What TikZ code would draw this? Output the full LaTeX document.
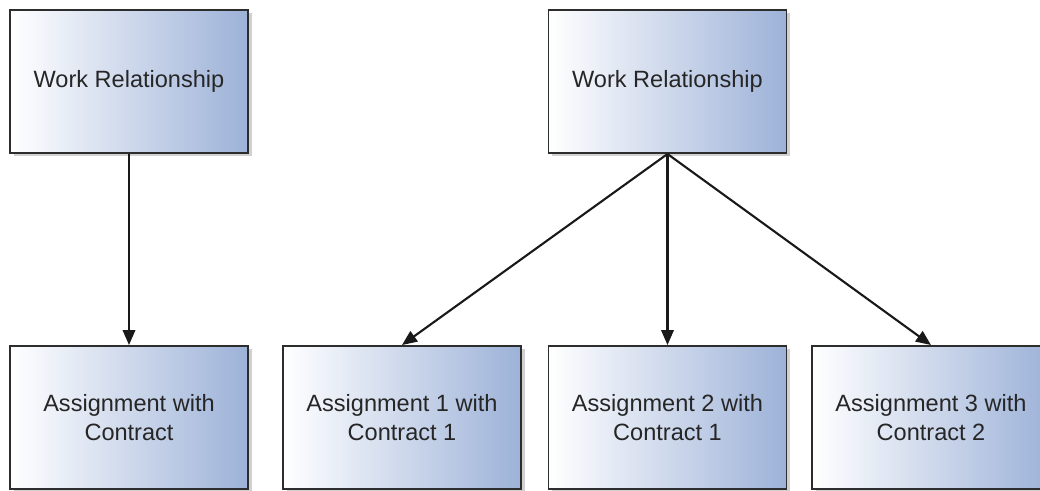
\documentclass[tikz,border=0pt]{standalone}
\usepackage{fontspec}
\setmainfont{Liberation Sans}
\usetikzlibrary{arrows.meta,shadows}
\definecolor{boxblue}{RGB}{157,178,216}
\definecolor{boxline}{RGB}{45,45,45}
\begin{document}
\begin{tikzpicture}[
  font=\fontsize{13.4}{16.4}\selectfont,
  box/.style={draw=boxline, line width=1.1pt, align=center, left color=white, right color=boxblue,
    minimum width=4.76cm, minimum height=2.86cm, text=black!85,
    drop shadow={shadow xshift=0.07cm, shadow yshift=-0.07cm, fill=black, opacity=0.18}},
  arrow/.style={-{Triangle[length=0.3cm, width=0.25cm]}, line width=1.2pt, black!90}
]
\useasboundingbox (0,0) rectangle (20.8,-9.82);
\node[box] (wr1) at (2.58,-1.63) {Work Relationship};
\node[box] (wr2) at (13.35,-1.63) {Work Relationship};
\node[box] (asg) at (2.58,-8.35) {Assignment with\\Contract};
\node[box] (asg1) at (8.04,-8.35) {Assignment 1 with\\Contract 1};
\node[box] (asg2) at (13.35,-8.35) {Assignment 2 with\\Contract 1};
\node[box] (asg3) at (18.62,-8.35) {Assignment 3 with\\Contract 2};
\draw[arrow] (wr1) -- (asg);
\draw[arrow] (wr2.south) -- (asg1.north);
\draw[arrow] (wr2.south) -- (asg2.north);
\draw[arrow] (wr2.south) -- (asg3.north);
\end{tikzpicture}
\end{document}
